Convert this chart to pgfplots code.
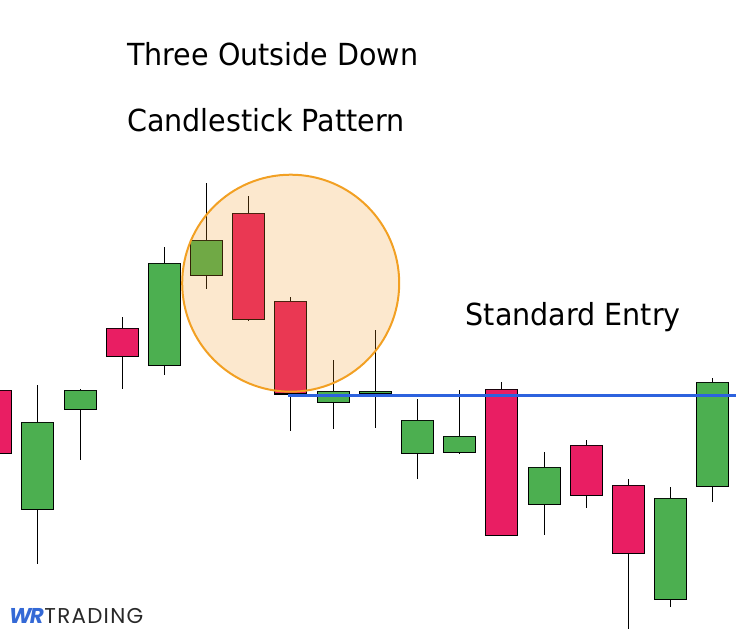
\documentclass[border=0pt]{standalone}
\usepackage{pgfplots}
\pgfplotsset{compat=1.18}
\usepgfplotslibrary{statistics}
\usepackage{fontspec}
\setmainfont{DejaVu Sans Condensed}[FakeStretch=1.045]
\newfontfamily\logofont{Poppins}
\newfontfamily\logofontsp{Poppins}[LetterSpace=6]
\definecolor{cgreen}{RGB}{76,175,80}
\definecolor{cpink}{RGB}{233,30,99}
\definecolor{cblue}{RGB}{45,98,222}
\definecolor{corange}{RGB}{240,150,30}
\definecolor{cborder}{RGB}{242,160,35}
\definecolor{logoblue}{RGB}{52,105,214}
\definecolor{logogray}{RGB}{40,40,40}
\begin{document}
\begin{tikzpicture}
\begin{axis}[
  scale only axis, width=736bp, height=634bp,
  xmin=0, xmax=736, ymin=0, ymax=634, y dir=reverse,
  hide axis, clip mode=individual,
  boxplot/draw direction=y,
  candle/.style={draw=black, line width=1.2bp, solid,
    boxplot/box extend=32, boxplot/whisker extend=0,
    boxplot/every median/.style={draw=none}},
]
% draw position, high (top px), body top, body bottom, low (bottom px)
\addplot[candle, fill=cpink,  boxplot prepared={draw position=-4.7,  lower whisker=378,   lower quartile=390.3, median=390.3, upper quartile=453.3, upper whisker=465}] coordinates {};
\addplot[candle, fill=cgreen, boxplot prepared={draw position=37.3,  lower whisker=385,   lower quartile=422.3, median=422.3, upper quartile=509.3, upper whisker=563.7}] coordinates {};
\addplot[candle, fill=cgreen, boxplot prepared={draw position=80.3,  lower whisker=389,   lower quartile=390.3, median=390.3, upper quartile=409.3, upper whisker=459.7}] coordinates {};
\addplot[candle, fill=cpink,  boxplot prepared={draw position=122.3, lower whisker=317,   lower quartile=328.3, median=328.3, upper quartile=356.3, upper whisker=388.7}] coordinates {};
\addplot[candle, fill=cgreen, boxplot prepared={draw position=164.3, lower whisker=247,   lower quartile=263.3, median=263.3, upper quartile=365.3, upper whisker=374.7}] coordinates {};
\addplot[candle, fill=cgreen, boxplot prepared={draw position=206.3, lower whisker=183,   lower quartile=240.3, median=240.3, upper quartile=275.3, upper whisker=288.7}] coordinates {};
\addplot[candle, fill=cpink,  boxplot prepared={draw position=248.3, lower whisker=196,   lower quartile=213.3, median=213.3, upper quartile=319.3, upper whisker=320.7}] coordinates {};
\addplot[candle, fill=cpink,  boxplot prepared={draw position=290.3, lower whisker=297.3, lower quartile=301.3, median=301.3, upper quartile=394,   upper whisker=430.7}] coordinates {};
\addplot[candle, fill=cgreen, boxplot prepared={draw position=333.3, lower whisker=360,   lower quartile=391.3, median=391.3, upper quartile=402.3, upper whisker=428.7}] coordinates {};
\addplot[candle, fill=cgreen, boxplot prepared={draw position=375.3, lower whisker=330,   lower quartile=391.3, median=391.3, upper quartile=393.3, upper whisker=427.7}] coordinates {};
\addplot[candle, fill=cgreen, boxplot prepared={draw position=417.3, lower whisker=399,   lower quartile=420.3, median=420.3, upper quartile=453.3, upper whisker=479.3}] coordinates {};
\addplot[candle, fill=cgreen, boxplot prepared={draw position=459.3, lower whisker=390,   lower quartile=436.3, median=436.3, upper quartile=452.3, upper whisker=453.7}] coordinates {};
\addplot[candle, fill=cpink,  boxplot prepared={draw position=501.3, lower whisker=382,   lower quartile=389.3, median=389.3, upper quartile=535.3, upper whisker=535.3}] coordinates {};
\addplot[candle, fill=cgreen, boxplot prepared={draw position=544.3, lower whisker=452,   lower quartile=467.3, median=467.3, upper quartile=504.3, upper whisker=534.7}] coordinates {};
\addplot[candle, fill=cpink,  boxplot prepared={draw position=586.3, lower whisker=440,   lower quartile=445.3, median=445.3, upper quartile=495.3, upper whisker=507.7}] coordinates {};
\addplot[candle, fill=cpink,  boxplot prepared={draw position=628.3, lower whisker=479,   lower quartile=485.3, median=485.3, upper quartile=553.3, upper whisker=628.7}] coordinates {};
\addplot[candle, fill=cgreen, boxplot prepared={draw position=670.3, lower whisker=487,   lower quartile=498.3, median=498.3, upper quartile=599.3, upper whisker=607}] coordinates {};
\addplot[candle, fill=cgreen, boxplot prepared={draw position=712.3, lower whisker=378,   lower quartile=382.3, median=382.3, upper quartile=486.3, upper whisker=501.7}] coordinates {};
% highlight circle
\draw[fill=corange, fill opacity=0.22, draw=cborder, line width=2bp] (axis cs:290.7,283.2) circle[radius=108.5bp];
% entry line
\addplot[cblue, line width=3.2bp, no marks] coordinates {(288,395.3) (736,395.3)};
% texts
\node[anchor=base west, inner sep=0pt, font=\fontsize{30.5}{35}\selectfont] at (axis cs:127,65.7) {Three Outside Down};
\node[anchor=base west, inner sep=0pt, font=\fontsize{30.5}{35}\selectfont] at (axis cs:127,131) {Candlestick Pattern};
\node[anchor=base west, inner sep=0pt, font=\fontsize{30.5}{35}\selectfont] at (axis cs:465.5,325) {Standard Entry};
\node[anchor=base west, inner sep=0pt, font=\fontsize{21.5}{25}\selectfont] at (axis cs:9,623.3) {{\logofont\color{logoblue}\bfseries\itshape W\kern-1.8bp R}\kern0.5bp{\logofontsp\color{logogray}TRADING}};
\end{axis}
\pgfresetboundingbox
\path[use as bounding box] (current axis.south west) rectangle (current axis.north east);
\end{tikzpicture}
\end{document}
